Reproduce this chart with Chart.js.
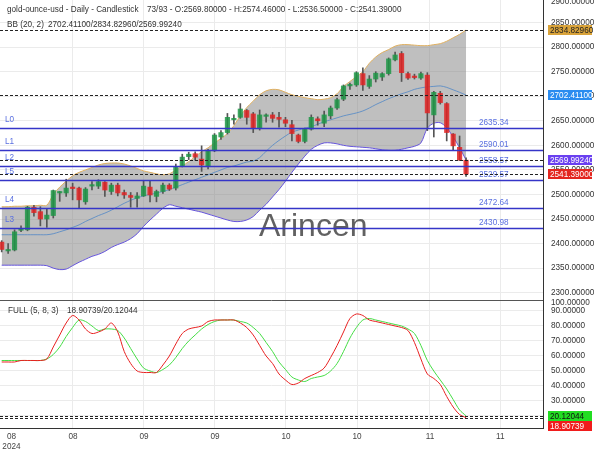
<!DOCTYPE html>
<html>
<head>
<meta charset="utf-8">
<script src="https://cdn.jsdelivr.net/npm/chart.js@4.4.1/dist/chart.umd.min.js"></script>
<style>
  html, body { margin: 0; padding: 0; background: #fff; overflow: hidden; }
  #wrap { position: relative; width: 600px; height: 450px; }
  #price { position: absolute; left: 0; top: -3px; }
  #stoch { position: absolute; left: 0; top: 290px; }
</style>
</head>
<body>
<div id="wrap">
  <canvas id="price" width="600" height="303"></canvas>
  <canvas id="stoch" width="600" height="160"></canvas>
</div>
<script>
// texts
const chartTitle = 'gold-ounce-usd - Daily - Candlestick';
const chartInfo = '73/93 - O:2569.80000 - H:2574.46000 - L:2536.50000 - C:2541.39000';
const bbTitle = 'BB (20, 2)';
const bbInfo = '2702.41100/2834.82960/2569.99240';
const stochTitle = 'FULL (5, 8, 3)';
const stochInfo = '18.90739/20.12044';
const watermark = 'Arincen';

// axis ticks
const tickLabels = ['08', '08', '09', '09', '10', '10', '11', '11'];
const tickSlots = [1.52, 11.05, 22.06, 33.07, 44.08, 55.1, 66.4, 77.3];
const tickYear = '2024';
const priceTicks = [2300, 2350, 2400, 2450, 2500, 2550, 2600, 2650, 2700, 2750, 2800, 2850, 2900];
const stochTicks = [20, 30, 40, 50, 60, 70, 80, 90];

// candles (daily OHLC)
const opens = [2403,2385,2387,2427,2428,2474,2465,2450,2457,2503,
  2503,2513,2513,2485,2517,2517,2525,2506,2519,2504,
  2498,2492,2497,2515,2496,2506,2519,2513,2558,2577,
  2583,2572,2558,2589,2617,2626,2652,2657,2671,2664,
  2635,2659,2662,2657,2652,2642,2621,2608,2633,2654,
  2645,2660,2676,2694,2721,2723,2746,2720,2735,2739,
  2746,2774,2787,2746,2740,2737,2743,2662,2706,2685,
  2623,2596,2569.8];
const highs = [2406,2400,2428,2436,2476,2478,2475,2470,2509,2506,
  2531,2523,2515,2514,2526,2530,2526,2523,2523,2509,
  2504,2504,2528,2528,2509,2523,2522,2562,2582,2586,
  2587,2599,2592,2624,2630,2665,2662,2685,2673,2667,
  2672,2664,2667,2667,2657,2651,2623,2635,2662,2658,
  2670,2680,2696,2723,2727,2750,2758,2742,2750,2748,
  2778,2790,2791,2749,2745,2749,2748,2710,2710,2687,
  2624,2619,2574.46];
const lows = [2383,2380,2385,2424,2426,2456,2436,2433,2452,2486,
  2496,2489,2472,2480,2509,2512,2496,2500,2497,2492,
  2474,2474,2496,2485,2485,2502,2508,2509,2556,2571,
  2570,2547,2552,2587,2612,2623,2643,2655,2643,2626,
  2631,2647,2647,2637,2638,2609,2605,2605,2631,2641,
  2638,2654,2673,2691,2714,2720,2712,2716,2729,2732,
  2743,2772,2730,2734,2735,2734,2630,2617,2684,2609,
  2590,2569,2536.5];
const closes = [2388,2388,2424,2430,2474,2463,2450,2458,2508,2504,
  2513,2512,2489,2511,2520,2526,2509,2519,2503,2499,
  2494,2497,2517,2499,2506,2519,2511,2557,2576,2582,
  2576,2560,2589,2621,2626,2657,2655,2674,2657,2635,
  2662,2661,2655,2653,2645,2624,2608,2633,2657,2650,
  2662,2676,2693,2721,2723,2748,2723,2735,2747,2746,
  2776,2784,2748,2737,2738,2746,2666,2708,2687,2626,
  2599,2570,2541.39];

// Bollinger bands (20, 2)
const bbUpper = [2475,2475,2476,2476,2477,2477,2478,2478,2500,2515,
  2527,2538,2545,2550,2555,2560,2563,2564,2564,2562,
  2558,2553,2548,2545,2542,2540,2542,2550,2558,2567,
  2577,2587,2595,2605,2614,2624,2640,2660,2677,2690,
  2703,2711,2714,2713,2708,2703,2700,2697,2695,2693,
  2694,2697,2705,2720,2730,2740,2750,2767,2780,2789,
  2795,2802,2805,2805,2804,2803,2803,2805,2807,2812,
  2819,2826,2834.83];
const bbMid = [2418,2418,2418,2418,2418,2418,2418,2418,2420,2424,
  2428,2433,2438,2445,2451,2457,2462,2468,2475,2482,
  2488,2493,2497,2500,2503,2506,2510,2515,2520,2525,
  2530,2535,2540,2545,2550,2555,2558,2562,2566,2568,
  2575,2588,2600,2610,2619,2627,2631,2635,2638,2643,
  2648,2652,2656,2660,2663,2666,2670,2676,2683,2689,
  2695,2700,2705,2709,2714,2717,2719,2720,2721,2718,
  2713,2708,2702.41];
const bbLower = [2356,2356,2356,2356,2356,2356,2356,2355,2350,2347,
  2348,2355,2362,2368,2374,2378,2384,2392,2398,2403,
  2410,2420,2435,2448,2460,2472,2479,2476,2473,2470,
  2467,2464,2460,2456,2452,2448,2445,2445,2448,2455,
  2468,2480,2495,2510,2527,2545,2562,2578,2592,2600,
  2605,2605,2603,2600,2598,2597,2596,2595,2593,2591,
  2590,2590,2592,2595,2598,2605,2635,2645,2646,2636,
  2617,2595,2569.99];

// stochastic full (5, 8, 3)
const stochK = [56,56,56,57,57,57,57,58,66,74,
  82,87,84,78,75,76,78,82,76,63,
  55,50,49,49,49,54,60,68,75,78,
  79,80,83,84,84,84,84,82,79,74,
  67,60,55,48,44,41,42,45,47,49,
  52,59,67,76,85,88,87,84,83,82,
  81,80,79,77,69,58,48,45,41,33,
  26,21,18.90739];
const stochD = [57,57,57,57,57,57,57,58,61,66,
  73,79,84,83,80,77,78,78,77,72,
  65,58,52,50,49,51,54,59,65,70,
  74,78,81,83,84,84,84,83,82,79,
  75,69,63,56,51,46,44,43,45,46,
  47,50,55,63,72,79,84,85,84,83,
  82,81,80,78,75,67,57,50,44,38,
  31,24,20.12044];

// levels
const levelNames = ['L0', 'L1', 'L2', 'L5', 'L4', 'L3'];
const levelValues = [2635.34, 2590.01, 2558.57, 2529.57, 2472.64, 2430.98];

const lastUpper = 2834.8296, lastMid = 2702.411, lastLower = 2569.9924, lastClose = 2541.39;
const lastK = 18.90739, lastD = 20.12044;

const X_MIN = -0.26, X_MAX = 83.93;
const FONT = '"Liberation Sans", Arial, sans-serif';
const FS = 8.2;

Chart.defaults.font.family = FONT;
Chart.defaults.font.size = FS;
Chart.defaults.color = '#333';

const idx = opens.map(function(_, i) { return i; });
const pts = function(arr) { return arr.map(function(v, i) { return { x: i, y: v }; }); };

function drawBox(ctx, yPx, text, bg, fg) {
  ctx.fillStyle = bg;
  ctx.fillRect(548, Math.round(yPx - 5), 44, 10);
  ctx.fillStyle = fg;
  ctx.font = FS + 'px ' + FONT;
  ctx.textBaseline = 'middle';
  ctx.textAlign = 'left';
  ctx.fillText(text, 550, Math.round(yPx - 5) + 5.5);
}

function hLine(ctx, a, py, color, width, dash) {
  ctx.strokeStyle = color;
  ctx.lineWidth = width;
  ctx.setLineDash(dash || []);
  ctx.beginPath();
  ctx.moveTo(a.left, py);
  ctx.lineTo(a.right, py);
  ctx.stroke();
  ctx.setLineDash([]);
}

// no label padding: the chart area must fill the panel
function noPad(s) {
  s.paddingTop = 0;
  s.paddingBottom = 0;
  s.paddingLeft = 0;
  s.paddingRight = 0;
}

const priceExtras = {
  id: 'priceExtras',
  beforeDatasetsDraw(chart) {
    const ctx = chart.ctx;
    ctx.save();
    ctx.font = '32px ' + FONT;
    ctx.fillStyle = 'rgba(80,80,80,0.9)';
    ctx.textBaseline = 'alphabetic';
    ctx.fillText(watermark, 259, 239);
    ctx.restore();
  },
  afterDatasetsDraw(chart) {
    const ctx = chart.ctx, a = chart.chartArea, y = chart.scales.y;
    ctx.save();
    ctx.font = FS + 'px ' + FONT;
    ctx.textBaseline = 'middle';
    levelValues.forEach(function(v, i) {
      const py = Math.round(y.getPixelForValue(v)) + 0.5;
      hLine(ctx, a, py, '#3535c8', 1.3);
      ctx.fillStyle = '#5a70e0';
      ctx.fillText(levelNames[i], 5, py - 8.5);
      ctx.fillText(v.toFixed(2), 479, py - 5.5);
    });
    [lastUpper, lastMid, lastLower, lastClose].forEach(function(v) {
      hLine(ctx, a, Math.round(y.getPixelForValue(v)) + 0.5, '#222', 1, [3, 2]);
    });
    ctx.restore();
  },
  afterDraw(chart) {
    const ctx = chart.ctx, y = chart.scales.y;
    ctx.save();
    ctx.font = FS + 'px ' + FONT;
    ctx.textBaseline = 'middle';
    ctx.fillStyle = '#333';
    ctx.fillText(chartTitle, 7, 13);
    ctx.fillText(chartInfo, 147, 13);
    ctx.fillText(bbTitle, 7, 28);
    ctx.fillText(bbInfo, 48, 28);
    ctx.fillText((2900).toFixed(5), 551, 5);
    drawBox(ctx, y.getPixelForValue(lastUpper), lastUpper.toFixed(5), '#d9a33a', '#222');
    drawBox(ctx, y.getPixelForValue(lastMid), lastMid.toFixed(5), '#2a8cf0', '#fff');
    drawBox(ctx, y.getPixelForValue(lastLower), lastLower.toFixed(5), '#6a40f0', '#fff');
    drawBox(ctx, y.getPixelForValue(lastClose), lastClose.toFixed(5), '#e3261f', '#fff');
    ctx.restore();
  }
};

const stochExtras = {
  id: 'stochExtras',
  afterDatasetsDraw(chart) {
    const ctx = chart.ctx, a = chart.chartArea, y = chart.scales.y;
    ctx.save();
    [lastD, lastK].forEach(function(v) {
      hLine(ctx, a, Math.round(y.getPixelForValue(v)) + 0.5, '#222', 1, [3, 2]);
    });
    ctx.restore();
  },
  afterDraw(chart) {
    const ctx = chart.ctx, a = chart.chartArea, y = chart.scales.y;
    ctx.save();
    hLine(ctx, { left: 0, right: a.right }, a.top + 0.5, '#555', 1);
    ctx.font = FS + 'px ' + FONT;
    ctx.textBaseline = 'middle';
    ctx.fillStyle = '#333';
    ctx.fillText(stochTitle, 8, 21);
    ctx.fillText(stochInfo, 67, 21);
    ctx.fillText((100).toFixed(5), 551, 13);
    const gy = y.getPixelForValue(lastD);
    drawBox(ctx, gy, lastD.toFixed(5), '#22dd22', '#111');
    drawBox(ctx, gy + 10, lastK.toFixed(5), '#f01c1c', '#fff');
    ctx.restore();
  }
};

function xScale(showLabels) {
  return {
    type: 'linear',
    min: X_MIN,
    max: X_MAX,
    offset: false,
    grid: {
      offset: false,
      drawTicks: false,
      color: function(c) { return c.index === 0 ? 'rgba(0,0,0,0)' : '#ebebeb'; }
    },
    border: { display: showLabels, color: '#333' },
    ticks: {
      display: showLabels,
      autoSkip: false,
      maxRotation: 0,
      padding: 4,
      color: '#444',
      callback: function(v, i) { return i === 0 ? [tickLabels[0], tickYear] : tickLabels[i]; }
    },
    afterBuildTicks: function(s) { s.ticks = tickSlots.map(function(v) { return { value: v }; }); },
    afterFit: function(s) { s.height = showLabels ? 22 : 0; noPad(s); }
  };
}

new Chart(document.getElementById('price'), {
  type: 'bar',
  data: {
    datasets: [
      {
        type: 'line', label: 'upper', data: pts(bbUpper),
        borderColor: '#e0b060', borderWidth: 1, pointRadius: 0, tension: 0.3,
        fill: '+1', backgroundColor: 'rgba(128,128,128,0.5)', order: 10
      },
      {
        type: 'line', label: 'lower', data: pts(bbLower),
        borderColor: '#6655dd', borderWidth: 1, pointRadius: 0, tension: 0.3, fill: false, order: 9
      },
      {
        type: 'line', label: 'mid', data: pts(bbMid),
        borderColor: '#4f86c6', borderWidth: 0.8, pointRadius: 0, tension: 0.3, fill: false, order: 8
      },
      {
        type: 'bar', label: 'wick',
        data: idx.map(function(i) { return { x: i, y: [lows[i], highs[i]] }; }),
        backgroundColor: '#555', barThickness: 1, grouped: false, order: 3
      },
      {
        type: 'bar', label: 'body',
        data: idx.map(function(i) { return { x: i, y: [opens[i], closes[i]] }; }),
        backgroundColor: idx.map(function(i) { return closes[i] >= opens[i] ? 'rgba(30,150,70,0.85)' : 'rgba(225,35,35,0.85)'; }),
        barThickness: 4.5, minBarLength: 1.5, grouped: false, order: 2
      }
    ]
  },
  options: {
    responsive: false,
    animation: false,
    devicePixelRatio: 1,
    events: [],
    layout: { padding: 0 },
    plugins: { legend: { display: false }, tooltip: { enabled: false } },
    scales: {
      x: xScale(false),
      y: {
        position: 'right',
        min: 2285.1,
        max: 2902.04,
        grid: { color: '#ebebeb', drawTicks: false },
        border: { color: '#333' },
        ticks: {
          padding: 8,
          color: '#333',
          callback: function(v) { return v === 2900 ? '' : Number(v).toFixed(5); }
        },
        afterBuildTicks: function(s) { s.ticks = priceTicks.map(function(v) { return { value: v }; }); },
        afterFit: function(s) { s.width = 57; noPad(s); }
      }
    }
  },
  plugins: [priceExtras]
});

new Chart(document.getElementById('stoch'), {
  type: 'line',
  data: {
    datasets: [
      { label: 'K', data: pts(stochK), borderColor: '#e82020', borderWidth: 1, pointRadius: 0, tension: 0.3, order: 1 },
      { label: 'D', data: pts(stochD), borderColor: '#44dd44', borderWidth: 1, pointRadius: 0, tension: 0.3, order: 2 }
    ]
  },
  options: {
    responsive: false,
    animation: false,
    devicePixelRatio: 1,
    events: [],
    layout: { padding: { top: 10, left: 0, right: 0, bottom: 0 } },
    plugins: { legend: { display: false }, tooltip: { enabled: false } },
    scales: {
      x: xScale(true),
      y: {
        position: 'right',
        min: 12,
        max: 97.33,
        grid: { color: '#ebebeb', drawTicks: false },
        border: { color: '#333' },
        ticks: {
          padding: 8,
          color: '#333',
          callback: function(v) { return Number(v).toFixed(5); }
        },
        afterBuildTicks: function(s) { s.ticks = stochTicks.map(function(v) { return { value: v }; }); },
        afterFit: function(s) { s.width = 57; noPad(s); }
      }
    }
  },
  plugins: [stochExtras]
});
</script>
</body>
</html>
